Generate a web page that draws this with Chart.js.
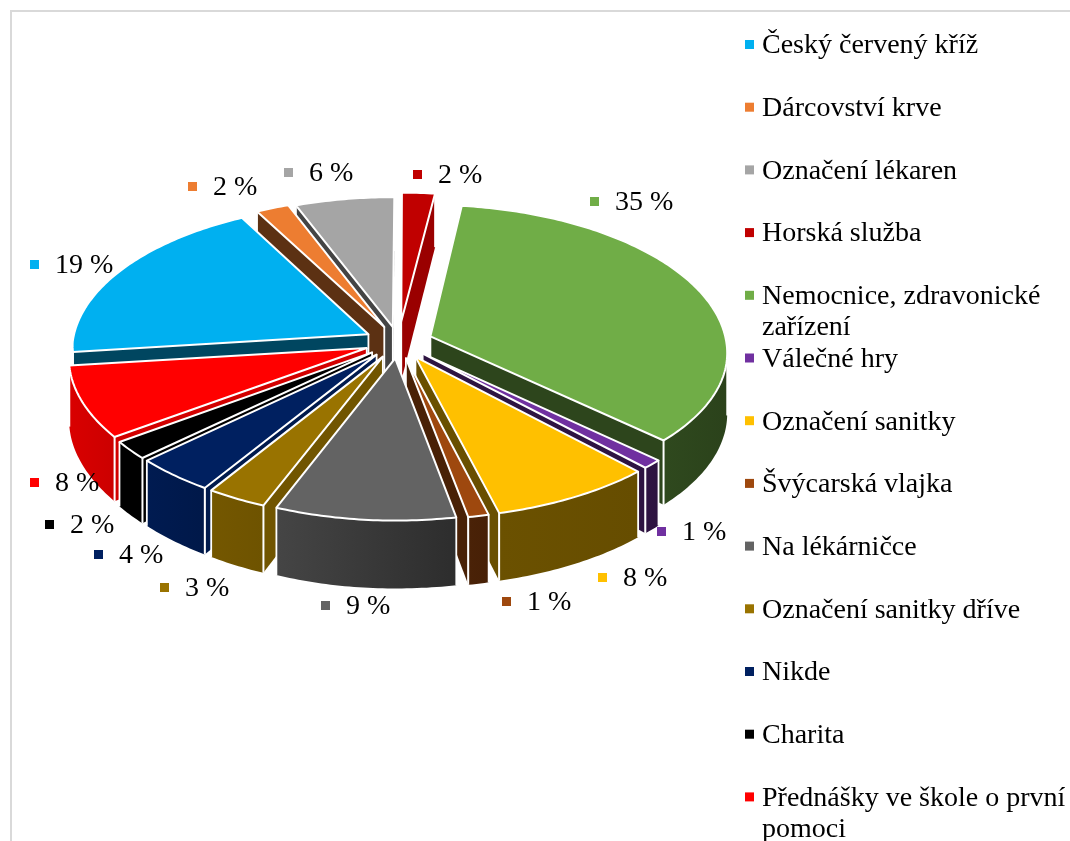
<!DOCTYPE html>
<html lang="cs">
<head>
<meta charset="utf-8">
<style>html,body{margin:0;padding:0;background:#fff}canvas{display:block}</style>
<script src="https://cdn.jsdelivr.net/npm/chart.js@4/dist/chart.umd.js"></script>
</head>
<body>
<canvas id="c" width="1070" height="841"></canvas>
<script>
const categories = ["Český červený kříž","Dárcovství krve","Označení lékaren","Horská služba","Nemocnice, zdravonické zařízení","Válečné hry","Označení sanitky","Švýcarská vlajka","Na lékárničce","Označení sanitky dříve","Nikde","Charita","Přednášky ve škole o první pomoci"];
const values = [19,2,6,2,35,1,8,1,9,3,4,2,8];
const colors = ["#00B0F0","#ED7D31","#A5A5A5","#C00000","#70AD47","#7030A0","#FFC000","#9E480E","#636363","#997300","#002060","#000000","#FF0000"];
const wallLeft  = [.42,.40,.41,.80,.42,.42,.42,.47,.70,.76,.84,1,.85];
const wallRight = [.38,.38,.41,.80,.38,.40,.40,.45,.45,.72,.76,1,.80];
const explode   = [34,34,31,42,34,34,35,34,34,34,34,34,34];
const labelAnchors = [[30,264],[188,186],[284,172],[413,174],[590,201],[657,531],[598,577],[502,601],[321,605],[160,587],[94,554],[45,524],[30,482]];

const FONT = '28px "Liberation Serif"';
const TILT_FRONT = 0.478, TILT_BACK = 0.495, DEPTH = 60, FOCAL = 2820;

function shade(hex, f){
  const n = parseInt(hex.slice(1),16);
  return `rgb(${Math.round((n>>16&255)*f)},${Math.round((n>>8&255)*f)},${Math.round((n&255)*f)})`;
}

class Pie3DController extends Chart.PieController {
  draw(){
    const ctx = this.chart.ctx;
    const arcs = this._cachedMeta.data.map((a,i)=>({a,i}));
    const mid = o => (o.a.startAngle+o.a.endAngle)/2;
    arcs.sort((p,q)=>Math.sin(mid(p))-Math.sin(mid(q)));
    arcs.forEach(o=>this.paintArc(ctx,o.a,o.i));
  }
  paintArc(ctx, arc, i){
    const {x:cx,y:cy,startAngle:a0,endAngle:a1,outerRadius:R} = arc;
    const m = (a0+a1)/2, off = arc.options.offset||0;
    const ex = Math.cos(m)*off, ey = Math.sin(m)*off;
    const proj = (X,Y,z) => {
      const s = 1/(1-Y/FOCAL);
      const sx = (X<0 && Y>0) ? Math.pow(s,0.65) : s;
      return [cx+X*sx, cy+(Y*(Y<0?TILT_BACK:TILT_FRONT)+z)*s];
    };
    const pt = (ang,r,z) => proj(ex+Math.cos(ang)*r, ey+Math.sin(ang)*r, z);
    const N = Math.max(4,Math.ceil((a1-a0)/0.015));
    const rim = []; for(let k=0;k<=N;k++) rim.push(a0+(a1-a0)*k/N);
    const apex = pt(0,0,0), apexB = pt(0,0,DEPTH);
    const white = w => { ctx.strokeStyle='#fff'; ctx.lineWidth=w; ctx.lineJoin='round'; ctx.lineCap='butt'; };
    const line = (p,q) => { white(1.8); ctx.beginPath(); ctx.moveTo(p[0],p[1]); ctx.lineTo(q[0],q[1]); ctx.stroke(); };
    const poly = (pts,fill) => { ctx.beginPath(); pts.forEach((p,k)=>k?ctx.lineTo(p[0],p[1]):ctx.moveTo(p[0],p[1])); ctx.closePath(); ctx.fillStyle=fill; ctx.fill(); };
    const base = colors[i];
    const sideCol = shade(base,(wallLeft[i]+wallRight[i])/2);
    const rs = pt(a0,R,0), re = pt(a1,R,0);
    if(rs[0]<apex[0]){ const b=pt(a0,R,DEPTH); poly([apex,rs,b,apexB],sideCol); line(apex,apexB); line(rs,b); }
    if(apex[0]<re[0]){ const b=pt(a1,R,DEPTH); poly([re,apex,apexB,b],sideCol); line(apex,apexB); line(re,b); }
    const vis = rim.filter((t,k)=>{
      const prev = pt(rim[Math.max(k-1,0)],R,0), next = pt(rim[Math.min(k+1,N)],R,0);
      return next[0]<prev[0];
    });
    if(vis.length>1){
      const top = vis.map(t=>pt(t,R,0)), bot = vis.map(t=>pt(t,R,DEPTH)).reverse();
      const xs = top.map(p=>p[0]), xa=Math.min(...xs), xb=Math.max(...xs);
      const g = ctx.createLinearGradient(xa,0,xb+0.01,0);
      g.addColorStop(0,shade(base,wallLeft[i])); g.addColorStop(1,shade(base,wallRight[i]));
      poly(top.concat(bot),g);
      line(top[0],bot[bot.length-1]); line(top[top.length-1],bot[0]);
    }
    const face = [apex].concat(rim.map(t=>pt(t,R,0)));
    poly(face,base);
    white(2); ctx.stroke();
  }
}
Pie3DController.id = 'pie3d';
Pie3DController.defaults = Chart.PieController.defaults;
Pie3DController.overrides = Chart.PieController.overrides;
Chart.register(Pie3DController);

const frame = {
  id:'frame',
  beforeDraw(chart){
    const c = chart.ctx; c.save();
    c.fillStyle='#fff'; c.fillRect(0,0,chart.width,chart.height);
    c.strokeStyle='#d9d9d9'; c.lineWidth=2;
    c.strokeRect(11,11,2000,2000);
    c.restore();
  }
};
const texts = {
  id:'texts',
  afterDraw(chart){
    const c = chart.ctx; c.save();
    c.font = FONT; c.textBaseline='middle'; c.textAlign='left';
    values.forEach((v,i)=>{
      const [x,y] = labelAnchors[i];
      c.fillStyle=colors[i]; c.fillRect(x,y-4,9,9);
      c.fillStyle='#000'; c.fillText(v+' %',x+25,y+2);
    });
    categories.forEach((name,i)=>{
      const y = 44+62.7*i;
      c.fillStyle=colors[i]; c.fillRect(745,y-4,9,9);
      c.fillStyle='#000';
      let line='', yy=y+2;
      name.split(' ').forEach(w=>{
        const t = line?line+' '+w:w;
        if(c.measureText(t).width>306 && line){ c.fillText(line,762,yy); yy+=31; line=w; }
        else line=t;
      });
      c.fillText(line,762,yy);
    });
    c.restore();
  }
};

new Chart(document.getElementById('c'),{
  type:'pie3d',
  data:{labels:categories,datasets:[{data:values,backgroundColor:colors,offset:explode,borderWidth:0}]},
  options:{
    responsive:false,animation:false,rotation:263,radius:296,
    layout:{padding:{left:0,top:0,right:273,bottom:157}},
    plugins:{legend:{display:false},tooltip:{enabled:false}}
  },
  plugins:[frame,texts]
});
</script>
</body>
</html>
